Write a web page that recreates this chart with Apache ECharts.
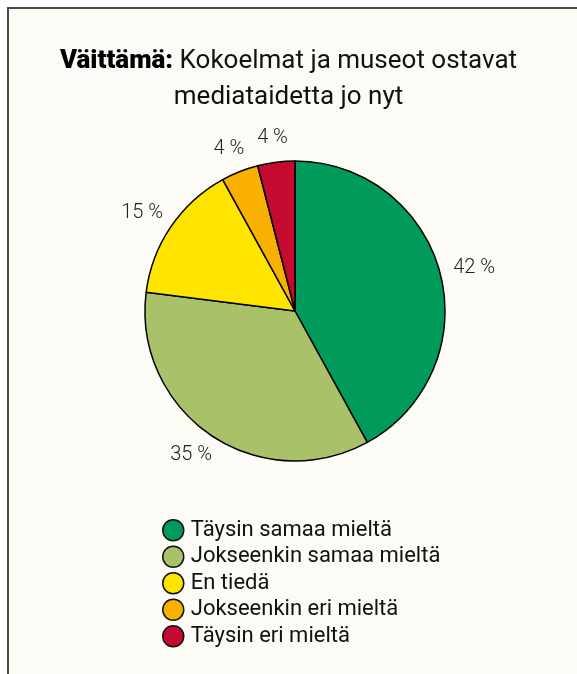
<!DOCTYPE html>
<html>
<head>
<meta charset="utf-8">
<script src="https://cdn.jsdelivr.net/npm/echarts@6/dist/echarts.min.js"></script>
<style>
html,body{margin:0;padding:0;background:#fff;}
#chart{width:577px;height:674px;}
</style>
</head>
<body>
<div id="chart"></div>
<script>
var categories = ['Täysin samaa mieltä', 'Jokseenkin samaa mieltä', 'En tiedä', 'Jokseenkin eri mieltä', 'Täysin eri mieltä'];
var values = [42, 35, 15, 4, 4];
var colors = ['#009b5b', '#a9c26a', '#ffe400', '#f9b000', '#c50a30'];
var titleBold = 'Väittämä:';
var titleLine1 = ' Kokoelmat ja museot ostavat';
var titleLine2 = 'mediataidetta jo nyt';

var PIE_CENTER = [295, 311];
var chart = echarts.init(document.getElementById('chart'), null, {renderer: 'canvas'});
var font = 'Roboto, "DejaVu Sans", sans-serif';
var data = categories.map(function (c, i) {
  return {name: c, value: values[i], itemStyle: {color: colors[i]}};
});
var labelData = categories.map(function (c, i) {
  return {name: c, value: values[i]};
});
chart.setOption({
  backgroundColor: '#ffffff',
  animation: false,
  graphic: [
    {type: 'rect', shape: {x: 8, y: 8, width: 569, height: 666}, style: {fill: '#fcfbf6'}, z: -10},
    {type: 'line', shape: {x1: 8, y1: 7, x2: 8, y2: 674}, style: {stroke: '#4a4a4a', lineWidth: 2}},
    {type: 'line', shape: {x1: 7, y1: 8, x2: 577, y2: 8}, style: {stroke: '#4a4a4a', lineWidth: 2}}
  ],
  title: {
    text: '{b|' + titleBold + '}' + titleLine1 + '\n' + titleLine2,
    left: 'center',
    top: 38,
    textStyle: {
      fontFamily: font,
      fontSize: 26,
      fontWeight: 'normal',
      color: '#111',
      lineHeight: 36,
      align: 'center',
      rich: {
        b: {fontFamily: font, fontSize: 26, fontWeight: 900, color: '#000', lineHeight: 36}
      }
    }
  },
  legend: {
    orient: 'vertical',
    left: 157,
    top: 514,
    icon: 'circle',
    itemWidth: 21,
    itemHeight: 21,
    itemGap: 4,
    itemStyle: {borderColor: '#111', borderWidth: 1.5},
    textStyle: {fontFamily: font, fontSize: 22, lineHeight: 21, color: '#111', padding: [0, 0, 0, 2]},
    data: categories
  },
  series: [{
    type: 'pie',
    center: PIE_CENTER,
    radius: [0, 150],
    startAngle: 90,
    clockwise: true,
    data: data,
    itemStyle: {borderColor: '#000', borderWidth: 1.5},
    label: {show: false},
    labelLine: {show: false},
    emphasis: {disabled: true}
  }, {
    type: 'pie',
    center: PIE_CENTER,
    radius: [148, 174],
    startAngle: 90,
    clockwise: true,
    silent: true,
    data: labelData,
    itemStyle: {color: 'rgba(0,0,0,0)', borderWidth: 0},
    label: {
      show: true,
      position: 'inside',
      formatter: function (p) { return p.value + ' %'; },
      fontFamily: font,
      fontSize: 20,
      fontWeight: 300,
      color: '#222'
    },
    labelLine: {show: false},
    labelLayout: function (params) {
      var r = params.labelRect;
      var vx = r.x + r.width / 2 - PIE_CENTER[0];
      var vy = r.y + r.height / 2 - PIE_CENTER[1];
      var len = Math.sqrt(vx * vx + vy * vy) || 1;
      return {dx: r.width / 2 * vx / len, dy: r.height / 2 * vy / len};
    },
    emphasis: {disabled: true}
  }]
});
</script>
</body>
</html>
